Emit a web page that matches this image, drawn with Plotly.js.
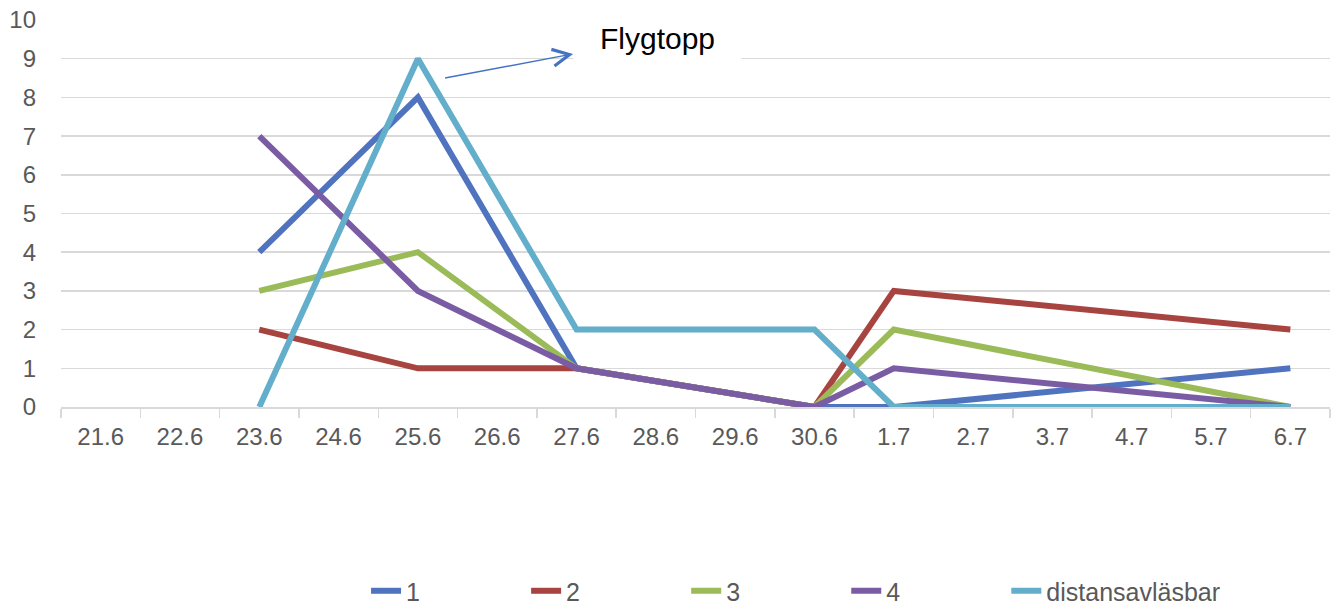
<!DOCTYPE html>
<html>
<head>
<meta charset="utf-8">
<script src="https://cdn.plot.ly/plotly-3.0.1.min.js"></script>
<style>html,body{margin:0;padding:0;background:#fff;}#chart{width:1335px;height:605px;}</style>
</head>
<body>
<div id="chart"></div>
<script>
var categories = ["21.6","22.6","23.6","24.6","25.6","26.6","27.6","28.6","29.6","30.6","1.7","2.7","3.7","4.7","5.7","6.7"];
var s1 = [null,null,4,null,8,null,1,null,null,0,0,null,null,null,null,1];
var s2 = [null,null,2,null,1,null,1,null,null,0,3,null,null,null,null,2];
var s3 = [null,null,3,null,4,null,1,null,null,0,2,null,null,null,null,0];
var s4 = [null,null,7,null,3,null,1,null,null,0,1,null,null,null,null,0];
var sDist = [null,null,0,null,9,null,2,null,null,2,0,null,null,null,null,0];
var seriesNames = ["1","2","3","4","distansavläsbar"];
var colors = ["#4F73BE","#A8443F","#9BBB59","#7A5CA4","#62AECB"];
var yTicks = [0,1,2,3,4,5,6,7,8,9,10];

var allSeries = [s1,s2,s3,s4,sDist];
var legendIds = ['legend','legend2','legend3','legend4','legend5'];
var traces = allSeries.map(function(vals,i){
  return {
    x: categories, y: vals, name: seriesNames[i], type: 'scatter', mode: 'lines',
    connectgaps: true, line: {color: colors[i], width: 6}, hoverinfo: 'skip',
    legend: legendIds[i]
  };
});

var layout = {
  width: 1335, height: 605,
  margin: {l: 61, r: 5, t: 20, b: 198},
  paper_bgcolor: '#ffffff', plot_bgcolor: '#ffffff',
  font: {family: 'Liberation Sans, Arial, sans-serif', color: '#595959', size: 24},
  showlegend: true,
  xaxis: {type: 'category', categoryorder: 'array', categoryarray: categories,
          range: [-0.5, 15.5], showgrid: false, showline: true, linecolor: '#D9D9D9', linewidth: 1.5,
          ticks: 'outside', tickson: 'boundaries', ticklen: 9, tickcolor: '#D9D9D9', tickwidth: 1.5,
          ticklabelstandoff: 8, tickfont: {size: 24, color: '#595959'}, zeroline: false, fixedrange: true},
  yaxis: {range: [0, 10], tickvals: yTicks, ticktext: yTicks.map(String), showgrid: true,
          gridcolor: '#D9D9D9', gridwidth: 1.5, showline: false, zeroline: false, ticks: '',
          ticklabelstandoff: 24, tickfont: {size: 24, color: '#595959'}, fixedrange: true},
  annotations: [{
    xref: 'x', yref: 'y', x: 4.342, y: 8.5, axref: 'pixel', ayref: 'pixel', ax: 212, ay: -40,
    text: 'Flygtopp', font: {size: 30, color: '#000000', family: 'Liberation Sans, Arial, sans-serif'},
    bgcolor: '#ffffff', width: 167, height: 48, borderpad: 0,
    showarrow: true, arrowside: 'start', arrowhead: 5, startarrowhead: 5, startarrowsize: 2.2,
    arrowsize: 2.2, arrowwidth: 1.5, arrowcolor: '#4472C4'
  }]
};
legendIds.forEach(function(id,i){
  layout[id] = {orientation: 'h', xref: 'container', yref: 'container',
    x: 0.2742 + i*0.1199, xanchor: 'left', y: 0.0231, yanchor: 'middle',
    font: {size: 25, color: '#595959'}, itemclick: false, bgcolor: 'rgba(0,0,0,0)'};
});

Plotly.newPlot('chart', traces, layout, {displayModeBar: false, staticPlot: true});
</script>
</body>
</html>
